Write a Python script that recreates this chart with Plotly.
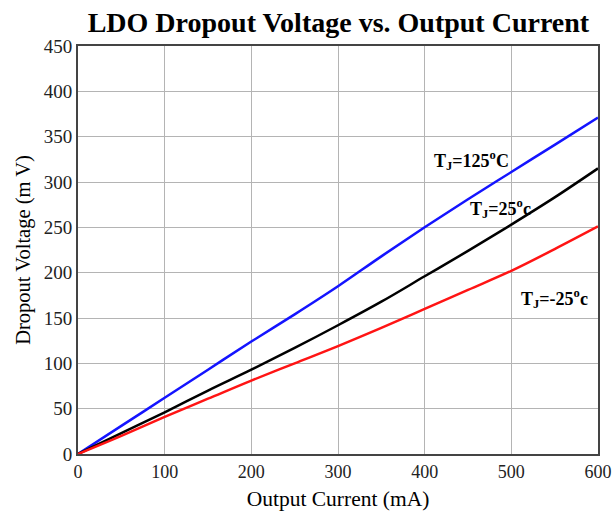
import plotly.graph_objects as go

current_ma = [0, 50, 100, 150, 200, 250, 300, 350, 400, 450, 500, 550, 600]
v_125c = [0, 31, 62, 93, 124, 154, 185, 218, 250, 281, 311, 341, 371]
v_25c = [0, 23, 46, 70, 93, 117, 142, 168, 196, 224, 253, 283, 315]
v_m25c = [0, 20, 41, 61, 81, 100, 119, 139, 160, 181, 202, 226, 251]

x_ticks = [0, 100, 200, 300, 400, 500, 600]
y_ticks = [0, 50, 100, 150, 200, 250, 300, 350, 400, 450]

serif = "Liberation Serif, Times New Roman, serif"

fig = go.Figure()
for vals, col in [(v_125c, "#1414ff"), (v_25c, "#000000"), (v_m25c, "#ff1414")]:
    fig.add_trace(go.Scatter(x=current_ma, y=vals, mode="lines",
                             line=dict(color=col, width=2.5, shape="spline", smoothing=1.0),
                             showlegend=False, hoverinfo="skip"))

ann_font = dict(family=serif, size=18, color="#000000")
labels = [
    (454, 324, "<b>T<sub>J</sub>=125<sup>o</sup>C</b>"),
    (487, 271, "<b>T<sub>J</sub>=25<sup>o</sup>c</b>"),
    (550, 171, "<b>T<sub>J</sub>=-25<sup>o</sup>c</b>"),
]
for xv, yv, txt in labels:
    fig.add_annotation(x=xv, y=yv, text=txt, showarrow=False, font=ann_font,
                       xanchor="center", yanchor="middle")

fig.update_layout(
    width=612, height=522,
    margin=dict(l=78, r=14, t=46, b=68),
    paper_bgcolor="white", plot_bgcolor="white",
    title=dict(text="<b>LDO Dropout Voltage vs. Output Current</b>",
               font=dict(family=serif, size=28, color="#000000"),
               x=0.553, xanchor="center", y=0.957, yanchor="middle"),
    xaxis=dict(range=[0, 600], tickvals=x_ticks, ticks="", automargin=False,
               showgrid=True, gridcolor="#b4b4b4", gridwidth=1,
               showline=True, linecolor="#444444", linewidth=2, mirror=True,
               zeroline=False,
               tickfont=dict(family=serif, size=18, color="#222222"),
               title=dict(text="Output Current (mA)",
                          font=dict(family=serif, size=21.5, color="#000000"),
                          standoff=10)),
    yaxis=dict(range=[0, 450], tickvals=y_ticks, ticks="", automargin=False,
               showgrid=True, gridcolor="#b4b4b4", gridwidth=1,
               showline=True, linecolor="#444444", linewidth=2, mirror=True,
               zeroline=False,
               tickfont=dict(family=serif, size=19, color="#222222"),
               title=dict(text="Dropout Voltage (m V)",
                          font=dict(family=serif, size=20.5, color="#000000"),
                          standoff=8)),
)

fig.write_html("out.html")
